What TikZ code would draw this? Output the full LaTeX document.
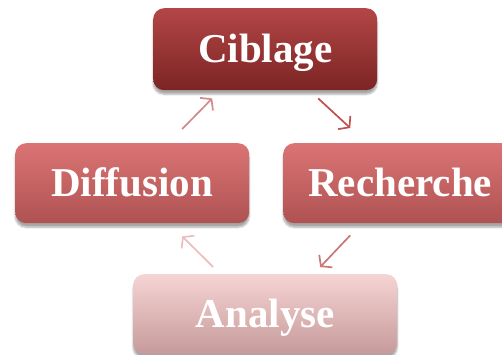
\documentclass[tikz,border=0pt]{standalone}
\usepackage{fontspec}
\setmainfont{Liberation Serif}
\usetikzlibrary{arrows.meta,shadows.blur}
\definecolor{cibT}{HTML}{B34646}
\definecolor{cibM}{HTML}{9C2F2F}
\definecolor{cibB}{HTML}{7C2424}
\definecolor{midT}{HTML}{DB7474}
\definecolor{midM}{HTML}{CF6565}
\definecolor{midB}{HTML}{AF5252}
\definecolor{anaT}{HTML}{F6D4D4}
\definecolor{anaM}{HTML}{EEC1C1}
\definecolor{anaB}{HTML}{C69A9A}
\definecolor{arrA}{HTML}{D58A8A}
\definecolor{arrB}{HTML}{C0504D}
\definecolor{arrC}{HTML}{CC7676}
\definecolor{arrD}{HTML}{EBBDBD}
\begin{document}
\begin{tikzpicture}[x=1pt,y=-1pt,
  box/.style={rounded corners=11pt, text=white, inner sep=0pt, anchor=north west,
    text height=35pt, text depth=9pt,
    font=\fontsize{41}{41}\selectfont\bfseries,
    blur shadow={shadow xshift=0pt, shadow yshift=-4pt, shadow blur steps=6, shadow opacity=35}},
  boxcib/.style={box, top color=cibT, middle color=cibM, bottom color=cibB},
  boxmid/.style={box, top color=midT, middle color=midM, bottom color=midB},
  boxana/.style={box, top color=anaT, middle color=anaM, bottom color=anaB},
  arr/.style={line width=1.7pt, -{Straight Barb[length=7pt,width=18pt,line width=1.7pt]}}
]
\useasboundingbox (0,0) rectangle (502,355);
\clip (0,0) rectangle (502,355);
\node[boxcib, minimum width=224pt, minimum height=82pt] (cib) at (153,8) {Ciblage};
\node[boxmid, minimum width=234pt, minimum height=80pt] (dif) at (15,143) {Diffusion};
\node[boxmid, minimum width=234pt, minimum height=80pt] (rec) at (283,143) {Recherche};
\node[boxana, minimum width=264pt, minimum height=80pt] (ana) at (133,274) {Analyse};
\draw[arr, arrA] ([shift={(50,-14)}]dif.north) -- ([shift={(-53,8)}]cib.south);
\draw[arr, arrB] ([shift={(53,8)}]cib.south) -- ([shift={(-50,-15)}]rec.north);
\draw[arr, arrC] ([shift={(-50,12)}]rec.south) -- ([shift={(55,-7)}]ana.north);
\draw[arr, arrD] ([shift={(-52,-7)}]ana.north) -- ([shift={(50,13)}]dif.south);
\end{tikzpicture}
\end{document}
